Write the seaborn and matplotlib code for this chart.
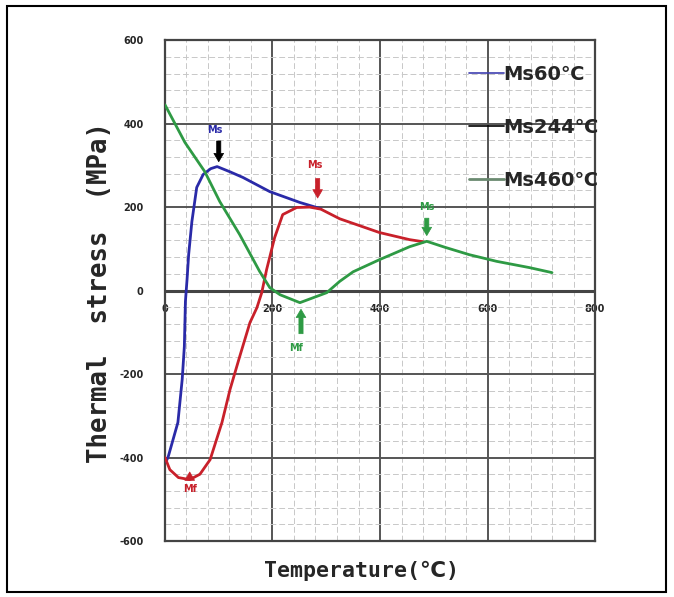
import numpy as np
import pandas as pd
import matplotlib
matplotlib.use('Agg')
import matplotlib.pyplot as plt
import seaborn as sns
from matplotlib.lines import Line2D
from matplotlib.patches import Rectangle
from matplotlib.ticker import MultipleLocator

# Datos (temperatura en C, tension en MPa)
blue_T = [2, 6, 15, 24, 32, 36, 38, 41, 44, 50, 59, 71, 85, 97, 120, 145, 195, 251, 290]
blue_S = [-410, -398, -357, -316, -213, -134, -26, 26, 86, 165, 247, 278, 292, 297, 285, 271, 237, 211, 196]

red_T = [0, 9, 25, 46, 65, 84, 106, 121, 139, 158, 171, 180, 189, 204, 219, 245, 269, 290, 325, 399, 455, 480]
red_S = [-400, -429, -448, -453, -440, -405, -316, -237, -158, -77, -41, -5, 50, 127, 182, 199, 200, 195, 172, 139, 122, 117]

green_T = [0, 37, 74, 102, 139, 176, 195, 214, 251, 301, 325, 350, 399, 455, 487, 520, 566, 617, 678, 720]
green_S = [445, 355, 285, 213, 134, 46, 7, -10, -29, -5, 22, 45, 74, 105, 118, 104, 86, 70, 55, 43]

series_labels = ['Ms60\u2103', 'Ms244\u2103', 'Ms460\u2103']
x_ticks = [0, 200, 400, 600, 800]
y_ticks = [-600, -400, -200, 0, 200, 400, 600]

blue = '#2a2aa8'
red = '#c8202a'
green = '#2e9a44'

sns.set_style('white')
plt.rcParams['font.family'] = ['DejaVu Sans']
mono = ['DejaVu Sans Mono', 'DejaVu Sans']

fig = plt.figure(figsize=(6.74, 5.97), dpi=100)
ax = fig.add_axes([0.2448, 0.0938, 0.638, 0.839])

# Rejilla
ax.set_xlim(0, 800)
ax.set_ylim(-600, 600)
ax.xaxis.set_major_locator(MultipleLocator(200))
ax.yaxis.set_major_locator(MultipleLocator(200))
ax.xaxis.set_minor_locator(MultipleLocator(40))
ax.yaxis.set_minor_locator(MultipleLocator(40))
ax.grid(which='major', color='#555555', lw=1.4)
ax.grid(which='minor', color='#c8c8c8', lw=0.7, ls=(0, (6, 3)))
ax.axhline(0, color='#444444', lw=2.2, zorder=1)
for s in ax.spines.values():
    s.set_color('#444444')
    s.set_linewidth(1.6)

# Curvas
df_b = pd.DataFrame({'T': blue_T, 'S': blue_S})
df_r = pd.DataFrame({'T': red_T, 'S': red_S})
df_g = pd.DataFrame({'T': green_T, 'S': green_S})
sns.lineplot(data=df_b, x='T', y='S', sort=False, color=blue, lw=2, ax=ax, zorder=3)
sns.lineplot(data=df_r, x='T', y='S', sort=False, color=red, lw=2, ax=ax, zorder=4)
sns.lineplot(data=df_g, x='T', y='S', sort=False, color=green, lw=2, ax=ax, zorder=5)

# Ejes: etiquetas x debajo de la linea de 0
ax.tick_params(axis='x', which='both', bottom=False, labelbottom=False)
ax.tick_params(axis='y', which='both', left=False, labelsize=7, pad=12)
ax.set_yticks(y_ticks)
ax.set_yticklabels([str(v) for v in y_ticks], fontweight='bold')
sec = ax.secondary_xaxis(0.5)
sec.xaxis.set_ticks_position('bottom')
sec.set_xticks(x_ticks)
sec.set_xticklabels([str(v) for v in x_ticks], fontweight='bold')
sec.tick_params(length=0, labelsize=7, pad=10, labelbottom=True, labeltop=False)
for s in sec.spines.values():
    s.set_visible(False)

ax.set_xlabel('')
ax.set_ylabel('')
fig.text(0.537, 0.043, 'Temperature(\u2103)', ha='center', va='center',
         fontsize=15.5, fontweight='bold', family=mono)
fig.text(0.148, 0.51, 'Thermal  stress  (MPa)', ha='center', va='center', rotation=90,
         fontsize=18.5, fontweight='bold', family=mono)

# Flechas Ms / Mf
def marca(txt, xt, yt, x0, y0, x1, y1, c, ca=None):
    ax.text(xt, yt, txt, color=c, fontsize=7, fontweight='bold', ha='center', va='center')
    ax.annotate('', xy=(x1, y1), xytext=(x0, y0),
                arrowprops=dict(arrowstyle='simple,head_width=0.7,head_length=0.6,tail_width=0.3',
                                color=ca or c, lw=0.5))

marca('Ms', 93, 385, 100, 365, 100, 302, blue, 'black')
marca('Ms', 279, 300, 284, 275, 284, 215, red)
marca('Mf', 46, -475, 46, -455, 46, -428, red)
marca('Mf', 243, -137, 253, -110, 253, -38, green)
marca('Ms', 487, 200, 487, 180, 487, 125, green)

# Leyenda
handles = [Line2D([], [], color='#4040b0', lw=1.2),
           Line2D([], [], color='black', lw=1.2),
           Line2D([], [], color='#6a8a70', lw=2)]
leg = ax.legend(handles, series_labels, loc='upper right', bbox_to_anchor=(1.05, 0.985),
                frameon=False, fontsize=14, handlelength=1.8, handletextpad=0.0,
                labelspacing=1.75)
for t in leg.get_texts():
    t.set_fontweight('bold')

# Marco de la figura
fig.patches.append(Rectangle((0.011, 0.008), 0.977, 0.982, transform=fig.transFigure,
                             fill=False, ec='black', lw=1.5))

fig.savefig('out.png', dpi=100)
